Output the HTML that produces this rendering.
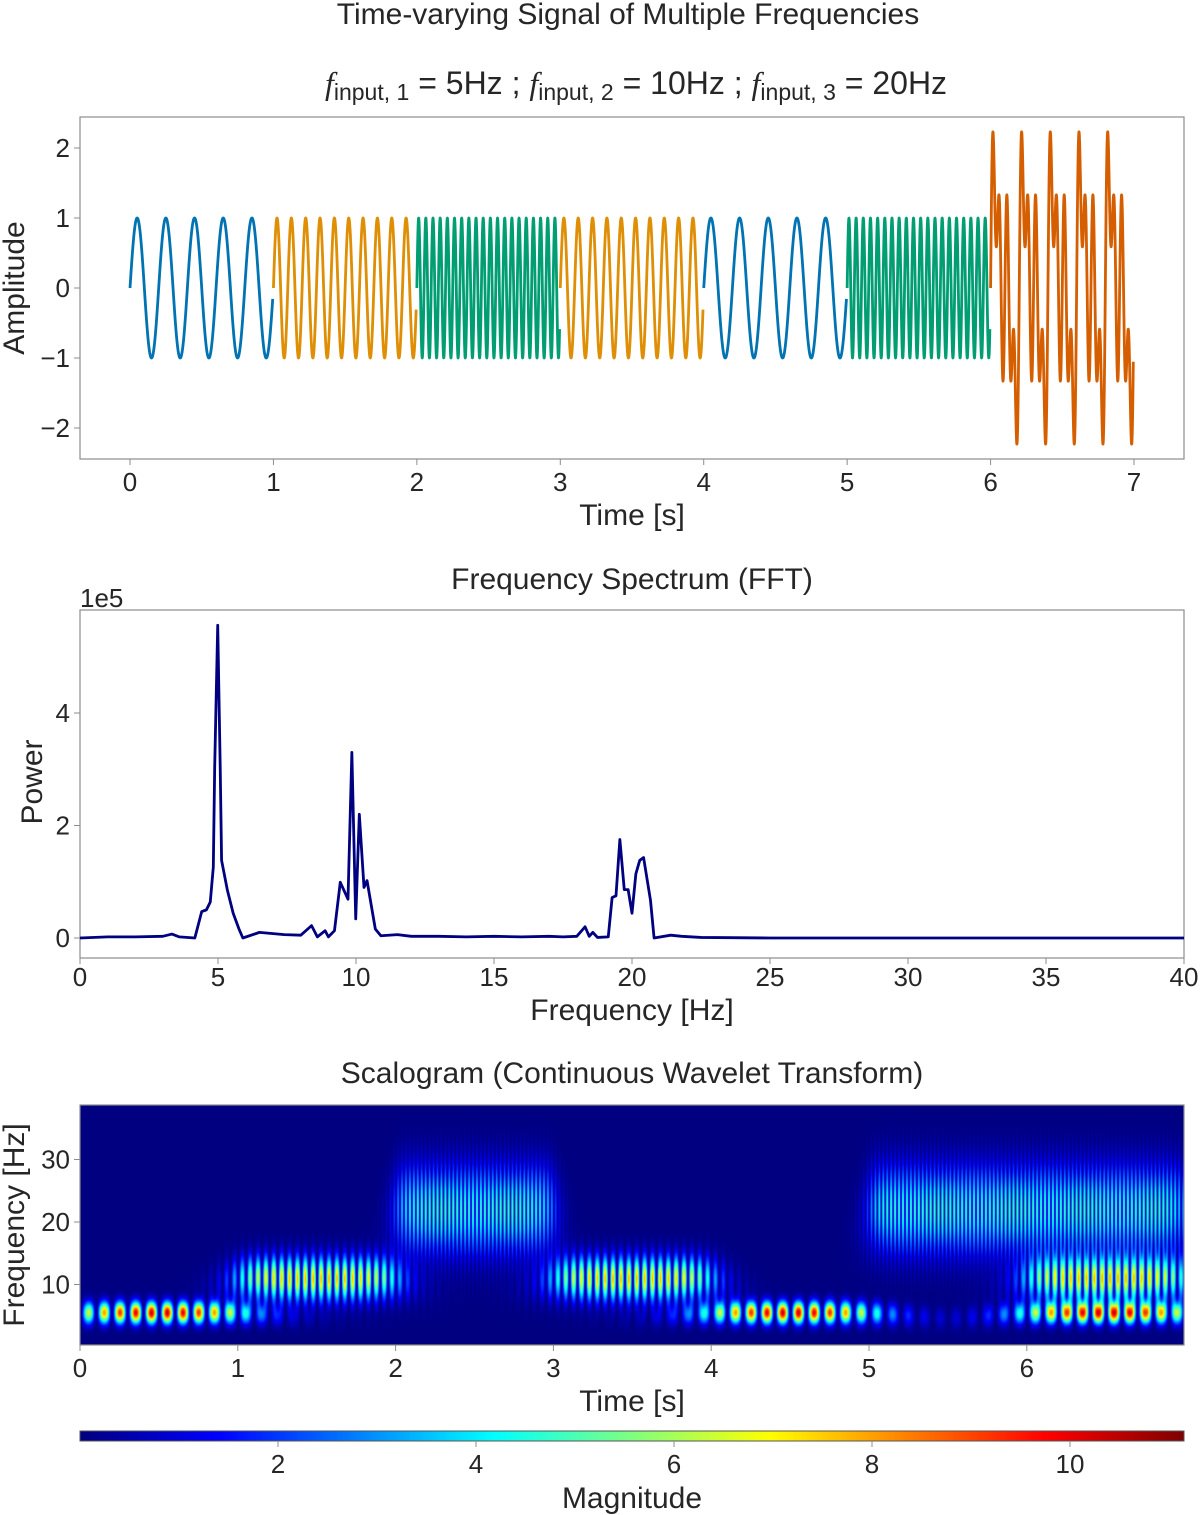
<!DOCTYPE html>
<html><head><meta charset="utf-8">
<style>
body{margin:0;background:#fff;width:1200px;height:1515px;overflow:hidden;font-family:"Liberation Sans",sans-serif;}
#wrap{position:relative;width:1200px;height:1515px;}
svg{position:absolute;left:0;top:0;}
canvas{position:absolute;}
text{font-family:"Liberation Sans","DejaVu Sans",sans-serif;fill:#262626;}
</style></head>
<body><div id="wrap">
<canvas id="scalo" width="1104" height="240" style="left:80px;top:1105px"></canvas>
<canvas id="cbar" width="1104" height="10" style="left:80px;top:1431px"></canvas>
<svg id="svg" width="1200" height="1515" xmlns="http://www.w3.org/2000/svg">
 <text x="628" y="24" font-size="30" text-anchor="middle">Time-varying Signal of Multiple Frequencies</text>
 <text x="636" y="94" font-size="32" text-anchor="middle"><tspan font-style="italic" font-family="Liberation Serif">f</tspan><tspan font-size="23" dy="6">input, 1</tspan><tspan dy="-6"> = 5Hz ; </tspan><tspan font-style="italic" font-family="Liberation Serif">f</tspan><tspan font-size="23" dy="6">input, 2</tspan><tspan dy="-6"> = 10Hz ; </tspan><tspan font-style="italic" font-family="Liberation Serif">f</tspan><tspan font-size="23" dy="6">input, 3</tspan><tspan dy="-6"> = 20Hz</tspan></text>
 <g id="p1"></g>
 <g id="p2"></g>
 <g id="p3"></g>
</svg>
</div>
<script>
// ---- Panel 1 data ----
const segStarts=[0,1,2,3,4,5,6];
const segFreqs=[[5],[10],[20],[10],[5],[20],[5,10,20]];
const segColors=['#0173b2','#de8f05','#029e73','#de8f05','#0173b2','#029e73','#d55e00'];
const p1XTicks=[0,1,2,3,4,5,6,7];
const p1YTicks=[-2,-1,0,1,2];
const p1YLabels=['\u22122','\u22121','0','1','2'];
// ---- Panel 2 data ----
const fftFreq=[0,1,2,3,3.33,3.6,4.16,4.41,4.58,4.72,4.83,4.88,4.99,5.08,5.13,5.34,5.55,5.76,5.9,6.5,7.4,8.0,8.39,8.6,8.88,9.0,9.22,9.43,9.71,9.85,9.99,10.12,10.29,10.4,10.7,10.9,11.5,12,13,14,15,16,17,17.5,18,18.3,18.45,18.58,18.75,19.14,19.28,19.42,19.56,19.72,19.86,20.0,20.14,20.28,20.42,20.67,20.8,21.4,21.8,22.5,25,30,35,40];
const fftPow=[0.0,0.02,0.02,0.03,0.07,0.02,0.0,0.47,0.5,0.64,1.26,3.04,5.56,3.04,1.38,0.85,0.44,0.16,0.0,0.1,0.06,0.05,0.22,0.02,0.13,0.02,0.13,0.99,0.69,3.3,0.34,2.2,0.9,1.02,0.16,0.04,0.06,0.03,0.03,0.02,0.03,0.02,0.03,0.02,0.03,0.2,0.03,0.1,0.01,0.02,0.72,0.75,1.75,0.86,0.86,0.44,1.14,1.38,1.43,0.67,0.0,0.05,0.03,0.01,0.0,0.0,0.0,0.0];
const p2XTicks=[0,5,10,15,20,25,30,35,40];
const p2YTicks=[0,2,4];
// ---- Panel 3 data ----
const scaloAmp={5:11.0,10:7.8,20:5.2};
const p3XTicks=[0,1,2,3,4,5,6];
const p3YTicks=[10,20,30];
const cbTicks=[2,4,6,8,10];
const cbMax=11.16;

const NS='http://www.w3.org/2000/svg';
const TK=26, AT=30;
function mk(parent,tag,attrs,txt){const e=document.createElementNS(NS,tag);for(const k in attrs)e.setAttribute(k,attrs[k]);if(txt!==undefined)e.textContent=txt;parent.appendChild(e);return e;}

// Panel 1
(function(){
 const g=document.getElementById('p1');
 const L=80,R=1184,T=117,B=459;
 const xs=t=>130+143.43*t, ys=v=>288-70*v;
 let fr=mk(g,'rect',{x:L,y:T,width:R-L,height:B-T,fill:'none',stroke:'#8c8c8c','stroke-width':1.2});
 
 for(let s=0;s<segStarts.length;s++){
  let d='';const t0=segStarts[s];
  for(let i=0;i<=1000;i++){const t=t0+i/1000*0.995;let v=0;for(const f of segFreqs[s])v+=Math.sin(2*Math.PI*f*t);
   d+=(i?'L':'M')+xs(t).toFixed(2)+' '+ys(v).toFixed(2);}
  const p=mk(g,'path',{d:d,fill:'none',stroke:segColors[s],'stroke-width':2.8,'stroke-linejoin':'round'});
  
 }
 p1XTicks.forEach(t=>{mk(g,'line',{x1:xs(t),x2:xs(t),y1:B,y2:B+6,stroke:'#8c8c8c'});
  const e=mk(g,'text',{x:xs(t),y:B+32,'font-size':TK,'text-anchor':'middle'},String(t));
  });
 p1YTicks.forEach((v,i)=>{mk(g,'line',{x1:L-6,x2:L,y1:ys(v),y2:ys(v),stroke:'#8c8c8c'});
  const e=mk(g,'text',{x:L-10,y:ys(v)+9,'font-size':TK,'text-anchor':'end'},p1YLabels[i]);
  });
 let e=mk(g,'text',{x:632,y:525,'font-size':AT,'text-anchor':'middle'},'Time [s]');
 
 e=mk(g,'text',{x:0,y:0,'font-size':AT,'text-anchor':'middle',transform:'translate(24,288) rotate(-90)'},'Amplitude');
 
})();

// Panel 2
(function(){
 const g=document.getElementById('p2');
 const L=80,R=1184,T=610,B=958;
 const xs=f=>L+27.6*f, ys=p=>938-56.25*p;
 let e=mk(g,'text',{x:632,y:589,'font-size':AT,'text-anchor':'middle'},'Frequency Spectrum (FFT)');
 
 e=mk(g,'text',{x:80,y:607,'font-size':TK},'1e5');
 
 let fr=mk(g,'rect',{x:L,y:T,width:R-L,height:B-T,fill:'none',stroke:'#8c8c8c','stroke-width':1.2});
 
 let d='';fftFreq.forEach((f,i)=>{d+=(i?'L':'M')+xs(f).toFixed(2)+' '+ys(fftPow[i]).toFixed(2);});
 const p=mk(g,'path',{d:d,fill:'none',stroke:'#000080','stroke-width':2.8,'stroke-linejoin':'round'});
 
 p2XTicks.forEach(f=>{mk(g,'line',{x1:xs(f),x2:xs(f),y1:B,y2:B+6,stroke:'#8c8c8c'});
  const t=mk(g,'text',{x:xs(f),y:B+28,'font-size':TK,'text-anchor':'middle'},String(f));
  });
 p2YTicks.forEach(v=>{mk(g,'line',{x1:L-6,x2:L,y1:ys(v),y2:ys(v),stroke:'#8c8c8c'});
  const t=mk(g,'text',{x:L-10,y:ys(v)+9,'font-size':TK,'text-anchor':'end'},String(v));
  });
 e=mk(g,'text',{x:632,y:1020,'font-size':AT,'text-anchor':'middle'},'Frequency [Hz]');
 
 e=mk(g,'text',{x:0,y:0,'font-size':AT,'text-anchor':'middle',transform:'translate(42,782) rotate(-90)'},'Power');
 
})();

// Panel 3
function jet(x){x=Math.max(0,Math.min(1,x));const c=v=>Math.round(255*Math.max(0,Math.min(1,v)));
 return [c(1.5-Math.abs(4*x-3)),c(1.5-Math.abs(4*x-2)),c(1.5-Math.abs(4*x-1))];}
(function(){
 const cv=document.getElementById('scalo'),ctx=cv.getContext('2d');
 const W=1104,H=240,img=ctx.createImageData(W,H);
 const tpp=7/1104.6;
 for(let py=0;py<H;py++){
  const F=(1347-(1105+py))/6.25;
  for(let px=0;px<W;px++){
   const t=px*tpp;let v=0;
   for(let s=0;s<segStarts.length;s++){
    const s0=segStarts[s],s1=s0+1;
    for(const f of segFreqs[s]){
     const fc=1.1*f,sf=0.24*f;
     const gF=Math.exp(-((F-fc)*(F-fc))/(2*sf*sf));
     if(gF<1e-3)continue;
     const w=1.6/Math.max(F,2);
     const env=0.5*(Math.tanh((t-s0)/w)-Math.tanh((t-s1)/w));
     const rip=Math.pow(Math.abs(Math.sin(2*Math.PI*f*t)),1.4);
     v+=scaloAmp[f]*gF*env*rip;
    }
   }
   const c=jet(v/cbMax);const k=4*(py*W+px);
   img.data[k]=c[0];img.data[k+1]=c[1];img.data[k+2]=c[2];img.data[k+3]=255;
  }
 }
 ctx.putImageData(img,0,0);
 const cb=document.getElementById('cbar').getContext('2d');
 for(let x=0;x<1104;x++){const c=jet(x/1103);cb.fillStyle='rgb('+c.join(',')+')';cb.fillRect(x,0,1,10);}
 const g=document.getElementById('p3');
 const L=80,R=1184,T=1105,B=1345;
 const xs=t=>L+157.8*t, ys=f=>1347-6.25*f, cx=m=>L+99*m;
 let e=mk(g,'text',{x:632,y:1083,'font-size':AT,'text-anchor':'middle'},'Scalogram (Continuous Wavelet Transform)');
 
 mk(g,'rect',{x:L,y:T,width:R-L,height:B-T,fill:'none',stroke:'#8c8c8c','stroke-width':1.2});
 p3XTicks.forEach(t=>{mk(g,'line',{x1:xs(t),x2:xs(t),y1:B,y2:B+6,stroke:'#8c8c8c'});
  const q=mk(g,'text',{x:xs(t),y:B+32,'font-size':TK,'text-anchor':'middle'},String(t));
  });
 p3YTicks.forEach(f=>{mk(g,'line',{x1:L-6,x2:L,y1:ys(f),y2:ys(f),stroke:'#8c8c8c'});
  const q=mk(g,'text',{x:L-10,y:ys(f)+9,'font-size':TK,'text-anchor':'end'},String(f));
  });
 e=mk(g,'text',{x:632,y:1411,'font-size':AT,'text-anchor':'middle'},'Time [s]');
 
 e=mk(g,'text',{x:0,y:0,'font-size':AT,'text-anchor':'middle',transform:'translate(24,1225) rotate(-90)'},'Frequency [Hz]');
 
 mk(g,'rect',{x:80,y:1431,width:1104,height:10,fill:'none',stroke:'#555','stroke-width':1});
 cbTicks.forEach(m=>{mk(g,'line',{x1:cx(m),x2:cx(m),y1:1441,y2:1447,stroke:'#8c8c8c'});
  const q=mk(g,'text',{x:cx(m),y:1473,'font-size':TK,'text-anchor':'middle'},String(m));
  });
 e=mk(g,'text',{x:632,y:1508,'font-size':AT,'text-anchor':'middle'},'Magnitude');
 
})();
</script>
</body></html>
